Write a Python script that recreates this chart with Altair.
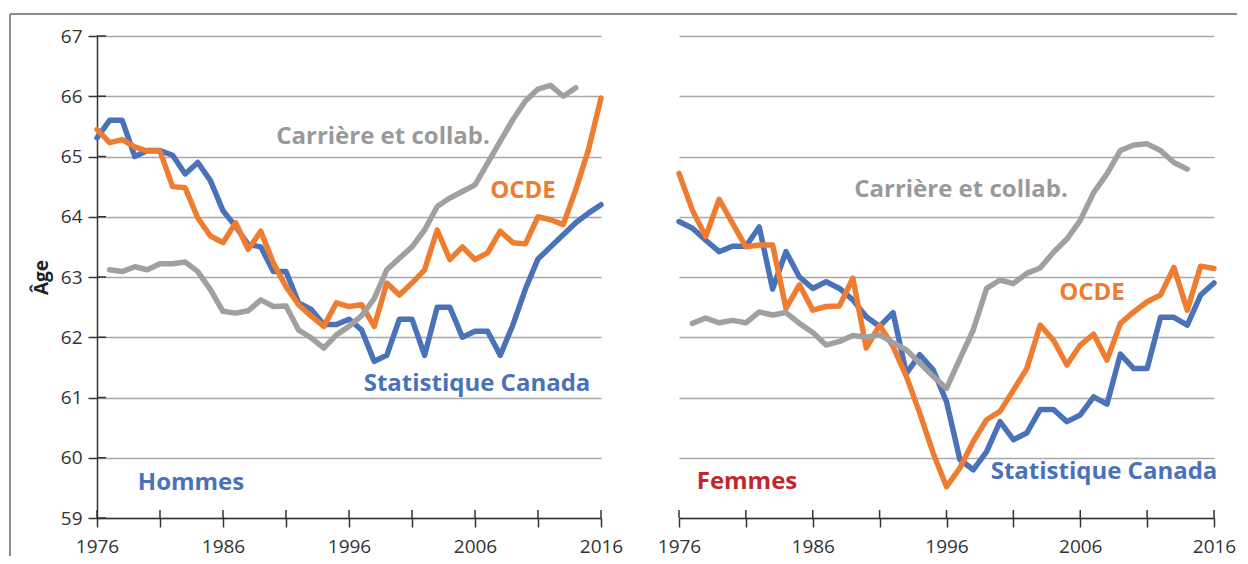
import altair as alt
import pandas as pd

# ---------------- data ----------------
years = list(range(1976, 2017))
years_carriere = list(range(1977, 2015))
tick_years = [1976, 1981, 1986, 1991, 1996, 2001, 2006, 2011, 2016]
age_ticks = [59, 60, 61, 62, 63, 64, 65, 66, 67]

hommes_statcan = [65.31, 65.6, 65.6, 65.0, 65.1, 65.1, 65.02, 64.71, 64.9, 64.6,
                  64.1, 63.84, 63.54, 63.5, 63.09, 63.09, 62.57, 62.46, 62.21, 62.21,
                  62.3, 62.12, 61.6, 61.7, 62.3, 62.3, 61.7, 62.5, 62.5, 62.0,
                  62.1, 62.1, 61.7, 62.2, 62.8, 63.3, 63.5, 63.7, 63.9, 64.06, 64.2]
hommes_ocde = [65.45, 65.23, 65.28, 65.16, 65.09, 65.09, 64.5, 64.48, 63.98, 63.68,
               63.57, 63.9, 63.46, 63.76, 63.23, 62.84, 62.54, 62.35, 62.18, 62.57,
               62.51, 62.54, 62.18, 62.9, 62.7, 62.9, 63.12, 63.78, 63.29, 63.5,
               63.29, 63.4, 63.76, 63.57, 63.55, 64.0, 63.95, 63.87, 64.45, 65.11, 65.97]
hommes_carriere = [63.12, 63.09, 63.17, 63.12, 63.22, 63.22, 63.25, 63.09, 62.79, 62.43,
                   62.4, 62.44, 62.62, 62.51, 62.52, 62.12, 61.99, 61.82, 62.04, 62.18,
                   62.36, 62.64, 63.12, 63.31, 63.5, 63.78, 64.17, 64.31, 64.42, 64.53,
                   64.89, 65.25, 65.61, 65.92, 66.12, 66.18, 66.0, 66.14]

femmes_statcan = [63.92, 63.81, 63.61, 63.42, 63.51, 63.51, 63.83, 62.8, 63.42, 63.0,
                  62.81, 62.92, 62.81, 62.62, 62.34, 62.18, 62.41, 61.4, 61.71, 61.46,
                  60.93, 59.97, 59.8, 60.1, 60.6, 60.3, 60.41, 60.8, 60.8, 60.6,
                  60.71, 61.01, 60.89, 61.72, 61.48, 61.48, 62.33, 62.33, 62.2, 62.7, 62.9]
femmes_ocde = [64.72, 64.11, 63.67, 64.29, 63.89, 63.5, 63.53, 63.53, 62.48, 62.87,
               62.45, 62.51, 62.52, 62.98, 61.82, 62.2, 61.85, 61.35, 60.74, 60.08,
               59.52, 59.83, 60.27, 60.63, 60.77, 61.12, 61.48, 62.2, 61.95, 61.54,
               61.87, 62.05, 61.62, 62.23, 62.42, 62.59, 62.7, 63.16, 62.45, 63.18, 63.14]
femmes_carriere = [62.23, 62.32, 62.24, 62.28, 62.24, 62.42, 62.37, 62.41, 62.23, 62.08,
                   61.87, 61.93, 62.03, 62.0, 62.04, 61.91, 61.79, 61.57, 61.35, 61.15,
                   61.64, 62.12, 62.81, 62.95, 62.89, 63.06, 63.15, 63.41, 63.63, 63.94,
                   64.4, 64.71, 65.1, 65.19, 65.21, 65.1, 64.9, 64.79]

series_names = ["Statistique Canada", "OCDE", "Carrière et collab."]
panel_names = ["Hommes", "Femmes"]

# ---------------- style ----------------
BLUE = "#4a72b9"
ORANGE = "#ee7d31"
GRAY = "#a0a0a0"
GRAY_TXT = "#999999"
RED = "#c1272d"
INK = "#333333"
FONT = "Open Sans"
LBL = 19

xscale = alt.Scale(domain=[1976, 2016], nice=False, zero=False)
yscale = alt.Scale(domain=[59, 67], nice=False, zero=False)

xaxis = alt.Axis(values=tick_years, format="d",
                 labelExpr="(datum.value - 1976) % 10 == 0 ? datum.label : ''",
                 tickSize=9, grid=False, title=None,
                 labelFont=FONT, labelFontSize=LBL, labelColor=INK,
                 labelPadding=10, labelFlush=False, labelOverlap=False)


def yaxis(left):
    if left:
        return alt.Axis(values=age_ticks, format="d", tickSize=9, grid=True,
                        labelFont=FONT, labelFontSize=LBL, labelColor=INK,
                        labelPadding=6, title="Âge", titlePadding=9,
                        titleFont=FONT, titleFontSize=19, titleFontWeight="bold",
                        titleColor="#222222")
    return alt.Axis(values=age_ticks, format="d", grid=True,
                    domain=False, ticks=False, labels=False, title=None)


def line_layer(xs, vals, color, left):
    df = pd.DataFrame({"annee": xs, "age": vals})
    return alt.Chart(df).mark_line(color=color, strokeWidth=5.5, strokeJoin="round",
                                   strokeCap="round").encode(
        x=alt.X("annee:Q", scale=xscale, axis=xaxis),
        y=alt.Y("age:Q", scale=yscale, axis=yaxis(left)),
    )


def text_layer(label, color, px, py):
    return alt.Chart(pd.DataFrame({"t": [label]})).mark_text(
        font=FONT, fontSize=24, fontWeight="bold", color=color,
        align="center", baseline="alphabetic").encode(
        x=alt.value(px), y=alt.value(py), text="t:N")


def inner_x_ticks():
    return alt.Chart(pd.DataFrame({"annee": tick_years})).mark_rule(
        color=INK, strokeWidth=1.5).encode(
        x=alt.X("annee:Q", scale=xscale, axis=xaxis), y=alt.value(474), y2=alt.value(482))


def inner_y_ticks():
    return alt.Chart(pd.DataFrame({"age": age_ticks})).mark_rule(
        color=INK, strokeWidth=1.5).encode(
        y=alt.Y("age:Q", scale=yscale, axis=yaxis(True)), x=alt.value(0), x2=alt.value(9))


def frame():
    d = pd.DataFrame({"k": [0]})
    top = alt.Chart(d).mark_rule(color="#8c8c8c", strokeWidth=2).encode(
        x=alt.value(-87), x2=alt.value(1140), y=alt.value(-22))
    side = alt.Chart(d).mark_rule(color="#8c8c8c", strokeWidth=2).encode(
        x=alt.value(-87), y=alt.value(-22), y2=alt.value(520))
    return [top, side]


left = alt.layer(
    *frame(),
    line_layer(years, hommes_statcan, BLUE, True),
    line_layer(years, hommes_ocde, ORANGE, True),
    line_layer(years_carriere, hommes_carriere, GRAY, True),
    inner_x_ticks(),
    inner_y_ticks(),
    text_layer(series_names[2], GRAY_TXT, 286, 108),
    text_layer(series_names[1], ORANGE, 426, 162),
    text_layer(series_names[0], BLUE, 380, 355),
    text_layer(panel_names[0], BLUE, 94, 454),
).properties(width=504, height=482)

right = alt.layer(
    line_layer(years, femmes_statcan, BLUE, False),
    line_layer(years, femmes_ocde, ORANGE, False),
    line_layer(years_carriere, femmes_carriere, GRAY, False),
    inner_x_ticks(),
    text_layer(series_names[2], GRAY_TXT, 282, 161),
    text_layer(series_names[1], ORANGE, 413, 264),
    text_layer(series_names[0], BLUE, 425, 443),
    text_layer(panel_names[1], RED, 68, 453),
).properties(width=535, height=482)

chart = alt.hconcat(left, right, spacing=78, bounds="flush").properties(
    padding={"left": 1, "top": 5, "right": 0, "bottom": 0},
    background="white",
).configure_view(strokeWidth=0).configure_axis(
    labelFont=FONT, labelFontSize=LBL, labelColor=INK,
    titleFont=FONT, titleFontSize=19, titleFontWeight="bold", titleColor="#222222",
    domainColor=INK, domainWidth=1.5, tickColor=INK, tickWidth=1.5,
    gridColor="#a8a8a8", gridWidth=1.5,
)

chart.save("out.html", embed_options={"renderer": "svg", "actions": False})
